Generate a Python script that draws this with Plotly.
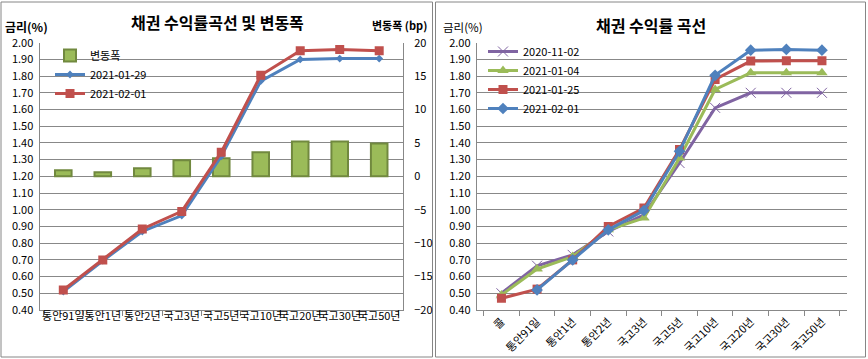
import plotly.graph_objects as go

# ---------------- data ----------------
left_cats = ["통안91일", "통안1년", "통안2년", "국고3년", "국고5년", "국고10년", "국고20년", "국고30년", "국고50년"]
chg_bp = [0.9, 0.6, 1.2, 2.4, 2.7, 3.6, 5.2, 5.2, 4.9]
y_20210129 = [0.51, 0.695, 0.87, 0.965, 1.32, 1.77, 1.90, 1.905, 1.905]
y_20210201 = [0.52, 0.70, 0.885, 0.99, 1.345, 1.805, 1.952, 1.96, 1.952]

right_cats = ["콜", "통안91일", "통안1년", "통안2년", "국고3년", "국고5년", "국고10년", "국고20년", "국고30년", "국고50년"]
r_20201102 = [0.50, 0.665, 0.73, 0.87, 0.97, 1.28, 1.61, 1.70, 1.70, 1.70]
r_20210104 = [0.49, 0.645, 0.72, 0.88, 0.95, 1.31, 1.72, 1.82, 1.82, 1.82]
r_20210125 = [0.47, 0.525, 0.70, 0.90, 1.01, 1.36, 1.78, 1.89, 1.892, 1.892]
r_20210201 = [None, 0.52, 0.70, 0.88, 0.995, 1.35, 1.805, 1.955, 1.96, 1.955]

left_ticks = [round(0.4 + 0.1 * i, 2) for i in range(17)]

FONT = "Noto Sans CJK KR"
GRID = "#888888"
BLUE, RED, GREEN, PURPLE = "#4F81BD", "#C0504D", "#9BBB59", "#8064A2"

W, H = 868, 359
def px(x): return x / W
def py(y): return 1 - y / H

fig = go.Figure()

# ---- left chart ----
fig.add_trace(go.Bar(x=left_cats, y=chg_bp, name="변동폭", xaxis="x", yaxis="y",
                     width=0.42, marker=dict(color=GREEN, line=dict(color="#71893F", width=2)),
                     legend="legend"))
fig.add_trace(go.Scatter(x=left_cats, y=y_20210129, name="2021-01-29", xaxis="x", yaxis="y2",
                         mode="lines+markers", line=dict(color=BLUE, width=3),
                         marker=dict(symbol="diamond", size=6, color=BLUE), legend="legend"))
fig.add_trace(go.Scatter(x=left_cats, y=y_20210201, name="2021-02-01", xaxis="x", yaxis="y2",
                         mode="lines+markers", line=dict(color=RED, width=3),
                         marker=dict(symbol="square", size=9, color=RED), legend="legend"))

# ---- right chart ----
fig.add_trace(go.Scatter(x=right_cats, y=r_20201102, name="2020-11-02", xaxis="x2", yaxis="y3",
                         mode="lines+markers", line=dict(color=PURPLE, width=3),
                         marker=dict(symbol="x-thin", size=10, line=dict(color=PURPLE, width=1)),
                         legend="legend2"))
fig.add_trace(go.Scatter(x=right_cats, y=r_20210104, name="2021-01-04", xaxis="x2", yaxis="y3",
                         mode="lines+markers", line=dict(color=GREEN, width=3),
                         marker=dict(symbol="triangle-up", size=10, color=GREEN), legend="legend2"))
fig.add_trace(go.Scatter(x=right_cats, y=r_20210125, name="2021-01-25", xaxis="x2", yaxis="y3",
                         mode="lines+markers", line=dict(color=RED, width=3),
                         marker=dict(symbol="square", size=9, color=RED), legend="legend2"))
fig.add_trace(go.Scatter(x=right_cats, y=r_20210201, name="2021-02-01", xaxis="x2", yaxis="y3",
                         mode="lines+markers", line=dict(color=BLUE, width=3),
                         marker=dict(symbol="diamond", size=9, color=BLUE), legend="legend2"))

tickfont = dict(family=FONT, size=11, color="black")

xcommon = dict(type="category", showline=True, linecolor=GRID, linewidth=1, ticks="outside",
               ticklen=5, tickcolor=GRID, tickson="boundaries", showgrid=False, tickfont=tickfont,
               fixedrange=True, automargin=False)

fig.update_layout(
    width=W, height=H, margin=dict(l=0, r=0, t=0, b=0, autoexpand=False),
    paper_bgcolor="white", plot_bgcolor="rgba(0,0,0,0)",
    font=dict(family=FONT, size=11, color="black"),
    bargap=0.5,
    xaxis=dict(domain=[px(39.5), px(403)], anchor="y", **xcommon, tickangle=0, ticklabelstandoff=-4),
    yaxis=dict(range=[-20, 20], dtick=5, side="right", anchor="x", showgrid=False,
               showline=True, linecolor=GRID, zeroline=False, tickfont=tickfont,
               ticklabelstandoff=8, domain=[py(310), py(42.7)], automargin=False),
    yaxis2=dict(range=[0.4, 2.0], tickvals=left_ticks, tickformat=".2f", overlaying="y", side="left",
                anchor="x", showgrid=True, gridcolor=GRID, gridwidth=1, showline=True, linecolor=GRID,
                zeroline=False, tickfont=tickfont, ticklabelstandoff=3, automargin=False),
    xaxis2=dict(domain=[px(476.7), px(846.7)], anchor="y3", **xcommon, tickangle=-45),
    yaxis3=dict(range=[0.4, 2.0], tickvals=left_ticks, tickformat=".2f", anchor="x2",
                domain=[py(310), py(42.7)], showgrid=True, gridcolor=GRID, gridwidth=1,
                showline=True, linecolor=GRID, zeroline=False, tickfont=tickfont,
                ticklabelstandoff=3, automargin=False),
    legend=dict(x=px(50), y=py(41), xanchor="left", yanchor="top", bgcolor="rgba(0,0,0,0)",
                font=dict(family=FONT, size=11), tracegroupgap=0, itemwidth=30),
    legend2=dict(x=px(483), y=py(37), xanchor="left", yanchor="top", bgcolor="rgba(0,0,0,0)",
                 font=dict(family=FONT, size=11), tracegroupgap=0, itemwidth=30),
    showlegend=True,
)

# chart borders
fig.add_shape(type="rect", xref="paper", yref="paper", x0=px(1), x1=px(432.5), y0=py(357), y1=py(2),
              line=dict(color="#868686", width=1), layer="below")
fig.add_shape(type="rect", xref="paper", yref="paper", x0=px(435.5), x1=px(865.5), y0=py(357), y1=py(2),
              line=dict(color="#868686", width=1), layer="below")

# titles & axis titles
fig.add_annotation(text="<b>채권 수익률곡선 및 변동폭</b>", x=px(217), y=py(22), xref="paper", yref="paper",
                   showarrow=False, font=dict(family=FONT, size=16), xanchor="center", yanchor="middle")
fig.add_annotation(text="<b>채권 수익률 곡선</b>", x=px(651), y=py(25), xref="paper", yref="paper",
                   showarrow=False, font=dict(family=FONT, size=16), xanchor="center", yanchor="middle")
fig.add_annotation(text="<b>금리(%)</b>", x=px(3), y=py(26), xref="paper", yref="paper",
                   showarrow=False, font=dict(family=FONT, size=12), xanchor="left", yanchor="middle")
fig.add_annotation(text="<b>변동폭 (bp)</b>", x=px(429), y=py(25), xref="paper", yref="paper",
                   showarrow=False, font=dict(family=FONT, size=11), xanchor="right", yanchor="middle")
fig.add_annotation(text="금리(%)", x=px(441), y=py(27), xref="paper", yref="paper",
                   showarrow=False, font=dict(family=FONT, size=11.5), xanchor="left", yanchor="middle")

fig.write_html("out.html", config={"displayModeBar": False},
               post_script="document.body.style.margin='0';document.body.style.padding='0';"
                           "document.body.style.overflow='hidden';")
